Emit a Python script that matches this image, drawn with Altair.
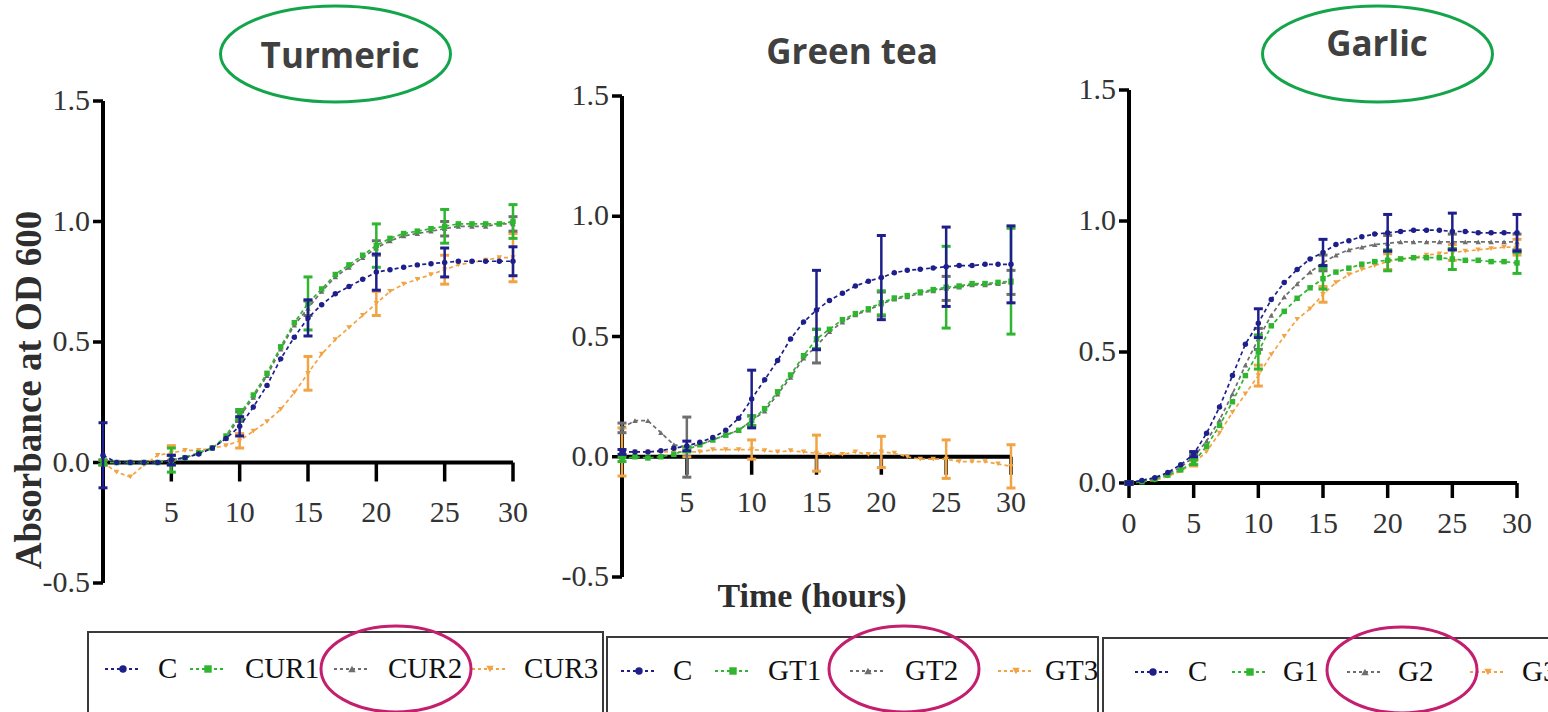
import altair as alt
import pandas as pd

# ---------------- data ----------------
hours = list(range(31))
err_hours = [0, 5, 10, 15, 20, 25, 30]

panel_titles = ["Turmeric", "Green tea", "Garlic"]
legend_labels = [["C", "CUR1", "CUR2", "CUR3"],
                 ["C", "GT1", "GT2", "GT3"],
                 ["C", "G1", "G2", "G3"]]

# Turmeric
tur_C = [0.03, 0.0, 0.0, 0.0, 0.0, 0.01, 0.02, 0.035, 0.06, 0.10,
         0.15, 0.23, 0.32, 0.43, 0.52, 0.60, 0.655, 0.70, 0.73, 0.76,
         0.79, 0.80, 0.81, 0.82, 0.825, 0.83, 0.835, 0.835, 0.835, 0.835, 0.835]
tur_1 = [0.0, 0.0, 0.0, 0.0, 0.0, 0.01, 0.02, 0.04, 0.06, 0.11,
         0.20, 0.28, 0.37, 0.48, 0.58, 0.66, 0.72, 0.78, 0.82, 0.86,
         0.90, 0.93, 0.95, 0.96, 0.97, 0.98, 0.99, 0.99, 0.99, 0.99, 1.00]
tur_2 = [0.0, 0.0, 0.0, 0.0, 0.0, 0.01, 0.02, 0.04, 0.06, 0.10,
         0.19, 0.27, 0.36, 0.47, 0.57, 0.64, 0.71, 0.77, 0.81, 0.85,
         0.89, 0.92, 0.94, 0.95, 0.96, 0.97, 0.98, 0.98, 0.98, 0.99, 0.99]
tur_3 = [0.0, -0.04, -0.06, -0.01, 0.03, 0.04, 0.05, 0.05, 0.06, 0.07,
         0.09, 0.13, 0.17, 0.22, 0.29, 0.37, 0.45, 0.51, 0.56, 0.61,
         0.66, 0.71, 0.74, 0.76, 0.78, 0.80, 0.82, 0.83, 0.84, 0.85, 0.85]
tur_C_sd = [0.135, 0.02, 0.04, 0.075, 0.075, 0.06, 0.06]
tur_1_sd = [0.01, 0.05, 0.02, 0.11, 0.09, 0.07, 0.07]
tur_2_sd = [0.01, 0.02, 0.02, 0.03, 0.03, 0.03, 0.03]
tur_3_sd = [0.01, 0.03, 0.03, 0.07, 0.05, 0.06, 0.10]

# Green tea
gt_C = [0.02, 0.02, 0.02, 0.025, 0.035, 0.045, 0.06, 0.08, 0.11, 0.16,
        0.24, 0.32, 0.40, 0.49, 0.56, 0.61, 0.65, 0.68, 0.71, 0.73,
        0.745, 0.765, 0.775, 0.78, 0.785, 0.79, 0.795, 0.795, 0.80, 0.80, 0.80]
gt_1 = [-0.01, 0.0, -0.005, 0.0, 0.01, 0.03, 0.05, 0.07, 0.09, 0.11,
        0.15, 0.20, 0.27, 0.34, 0.42, 0.49, 0.53, 0.57, 0.595, 0.615,
        0.64, 0.66, 0.67, 0.685, 0.695, 0.705, 0.71, 0.72, 0.72, 0.725, 0.73]
gt_2 = [0.12, 0.15, 0.15, 0.10, 0.05, 0.04, 0.05, 0.07, 0.09, 0.11,
        0.15, 0.19, 0.26, 0.33, 0.41, 0.46, 0.52, 0.56, 0.59, 0.61,
        0.635, 0.655, 0.665, 0.68, 0.69, 0.70, 0.705, 0.715, 0.715, 0.72, 0.725]
gt_3 = [0.02, 0.02, 0.02, 0.02, 0.02, 0.02, 0.02, 0.03, 0.03, 0.03,
        0.03, 0.025, 0.02, 0.025, 0.02, 0.015, 0.01, 0.01, 0.02, 0.01,
        0.02, 0.015, 0.0, -0.01, -0.01, -0.01, -0.02, -0.02, -0.02, -0.03, -0.04]
gt_C_sd = [0.01, 0.02, 0.12, 0.165, 0.175, 0.165, 0.16]
gt_1_sd = [0.01, 0.01, 0.02, 0.04, 0.05, 0.17, 0.22]
gt_2_sd = [0.02, 0.125, 0.02, 0.07, 0.05, 0.05, 0.05]
gt_3_sd = [0.10, 0.02, 0.04, 0.075, 0.065, 0.08, 0.09]

# Garlic
gar_C = [0.0, 0.01, 0.02, 0.04, 0.07, 0.11, 0.19, 0.29, 0.41, 0.53,
         0.61, 0.70, 0.765, 0.815, 0.855, 0.88, 0.91, 0.925, 0.94, 0.95,
         0.955, 0.96, 0.965, 0.965, 0.965, 0.96, 0.96, 0.955, 0.955, 0.955, 0.955]
gar_1 = [0.0, 0.005, 0.015, 0.03, 0.05, 0.08, 0.14, 0.22, 0.31, 0.41,
         0.50, 0.60, 0.655, 0.705, 0.745, 0.78, 0.805, 0.82, 0.835, 0.845,
         0.85, 0.855, 0.86, 0.86, 0.86, 0.855, 0.85, 0.85, 0.845, 0.845, 0.84]
gar_2 = [0.0, 0.01, 0.02, 0.035, 0.06, 0.10, 0.16, 0.24, 0.34, 0.45,
         0.55, 0.64, 0.71, 0.76, 0.805, 0.84, 0.87, 0.89, 0.90, 0.91,
         0.915, 0.92, 0.92, 0.92, 0.92, 0.92, 0.92, 0.92, 0.92, 0.92, 0.92]
gar_3 = [0.0, 0.005, 0.01, 0.025, 0.045, 0.075, 0.12, 0.19, 0.27, 0.34,
         0.41, 0.49, 0.56, 0.625, 0.665, 0.72, 0.765, 0.795, 0.815, 0.83,
         0.845, 0.855, 0.86, 0.87, 0.875, 0.88, 0.885, 0.89, 0.895, 0.90, 0.90]
gar_C_sd = [0.005, 0.01, 0.055, 0.05, 0.07, 0.07, 0.07]
gar_1_sd = [0.005, 0.01, 0.065, 0.04, 0.04, 0.04, 0.04]
gar_2_sd = [0.005, 0.01, 0.04, 0.03, 0.03, 0.03, 0.03]
gar_3_sd = [0.005, 0.01, 0.04, 0.03, 0.03, 0.03, 0.03]

y_ticks_a = [-0.5, 0.0, 0.5, 1.0, 1.5]
y_labels_a = ["-0.5", "0.0", "0.5", "1.0", "1.5"]
y_ticks_b = [0.0, 0.5, 1.0, 1.5]
y_labels_b = ["0.0", "0.5", "1.0", "1.5"]
x_ticks_a = [5, 10, 15, 20, 25, 30]
x_ticks_b = [0, 5, 10, 15, 20, 25, 30]

axis_title_y = "Absorbance at OD 600"
axis_title_x = "Time (hours)"

# ---------------- styling / layout ----------------
W, H = 1548, 712
SERIF = "Liberation Serif"
SANS = "Open Sans"
COLORS = ["#1f1f8c", "#2fb52f", "#6e6e6e", "#f2a445"]
SHAPES = ["circle", "square", "triangle-up", "triangle-down"]
AX_COLOR = "#000000"
LAB_COLOR = "#333333"


def ellipse_path(k):
    c = 0.5523
    return (f"M-1,0 C-1,{-c*k:.4f} {-c:.4f},{-k:.4f} 0,{-k:.4f} "
            f"C{c:.4f},{-k:.4f} 1,{-c*k:.4f} 1,0 "
            f"C1,{c*k:.4f} {c:.4f},{k:.4f} 0,{k:.4f} "
            f"C{-c:.4f},{k:.4f} -1,{c*k:.4f} -1,0 Z")


PANELS = [
    dict(series=[tur_C, tur_1, tur_2, tur_3], sds=[tur_C_sd, tur_1_sd, tur_2_sd, tur_3_sd],
         xr=[103, 513], yr=[583, 101], ydom=[-0.5, 1.5],
         yvals=y_ticks_a, ylabs=y_labels_a, xvals=x_ticks_a, tick=19, lpad=16),
    dict(series=[gt_C, gt_1, gt_2, gt_3], sds=[gt_C_sd, gt_1_sd, gt_2_sd, gt_3_sd],
         xr=[622, 1011], yr=[577, 96], ydom=[-0.5, 1.5],
         yvals=y_ticks_a, ylabs=y_labels_a, xvals=x_ticks_a, tick=18, lpad=13),
    dict(series=[gar_C, gar_1, gar_2, gar_3], sds=[gar_C_sd, gar_1_sd, gar_2_sd, gar_3_sd],
         xr=[1129, 1517], yr=[483, 90], ydom=[0.0, 1.5],
         yvals=y_ticks_b, ylabs=y_labels_b, xvals=x_ticks_b, tick=15, lpad=11),
]


def make_panel(p):
    xs = alt.Scale(domain=[0, 30], range=p["xr"], nice=False, zero=False)
    ys = alt.Scale(domain=p["ydom"], range=p["yr"], nice=False, zero=False)

    def X(f):
        return alt.X(f, scale=xs, axis=None)

    def Y(f):
        return alt.Y(f, scale=ys, axis=None)

    layers = []
    # ----- axes drawn through the panel scales -----
    ydf = pd.DataFrame({"x0": [0] * len(p["yvals"]), "v": p["yvals"], "lab": p["ylabs"]})
    xdf = pd.DataFrame({"v": p["xvals"], "y0": [0.0] * len(p["xvals"]),
                        "lab": [str(v) for v in p["xvals"]]})
    ydom_df = pd.DataFrame({"x0": [0], "a": [p["ydom"][0]], "b": [p["ydom"][1]]})
    xdom_df = pd.DataFrame({"a": [0], "b": [30], "y0": [0.0]})

    layers.append(alt.Chart(ydf).mark_rule(color=AX_COLOR, strokeWidth=3.5, xOffset=-10, x2Offset=0).encode(
        x=X("x0:Q"), x2="x0:Q", y=Y("v:Q")))
    layers.append(alt.Chart(xdf).mark_rule(color=AX_COLOR, strokeWidth=3.5, yOffset=0,
                                           y2Offset=p["tick"]).encode(
        x=X("v:Q"), y=Y("y0:Q"), y2="y0:Q"))
    layers.append(alt.Chart(ydom_df).mark_rule(color=AX_COLOR, strokeWidth=4).encode(
        x=X("x0:Q"), y=Y("a:Q"), y2="b:Q"))
    layers.append(alt.Chart(xdom_df).mark_rule(color=AX_COLOR, strokeWidth=4).encode(
        x=X("a:Q"), x2="b:Q", y=Y("y0:Q")))
    layers.append(alt.Chart(ydf).mark_text(font=SERIF, fontSize=30, color=LAB_COLOR, align="right",
                                           baseline="middle", dx=-13).encode(
        x=X("x0:Q"), y=Y("v:Q"), text="lab:N"))
    layers.append(alt.Chart(xdf).mark_text(font=SERIF, fontSize=30, color=LAB_COLOR, align="center",
                                           baseline="top", dy=p["tick"] + p["lpad"]).encode(
        x=X("v:Q"), y=Y("y0:Q"), text="lab:N"))

    # ----- series -----
    for i in [3, 2, 1, 0]:
        vals = p["series"][i]
        sd = p["sds"][i]
        df = pd.DataFrame({"hour": hours, "v": vals})
        edf = pd.DataFrame({"hour": err_hours,
                            "lo": [vals[h] - s for h, s in zip(err_hours, sd)],
                            "hi": [vals[h] + s for h, s in zip(err_hours, sd)]})
        c = COLORS[i]
        layers.append(alt.Chart(df).mark_line(color=c, strokeDash=[4, 3], strokeWidth=1.7).encode(
            x=X("hour:Q"), y=Y("v:Q")))
        layers.append(alt.Chart(edf).mark_rule(color=c, strokeWidth=2.5).encode(
            x=X("hour:Q"), y=Y("lo:Q"), y2="hi:Q"))
        for col in ["lo", "hi"]:
            layers.append(alt.Chart(edf).mark_tick(color=c, orient="horizontal", size=9,
                                                    thickness=3, opacity=1).encode(
                x=X("hour:Q"), y=Y(f"{col}:Q")))
        layers.append(alt.Chart(df).mark_point(color=c, filled=True, opacity=1, size=30,
                                               shape=SHAPES[i]).encode(
            x=X("hour:Q"), y=Y("v:Q")))
    return alt.layer(*layers)


def px(field):
    return dict(x=alt.X(f"{field}x:Q", scale=None, axis=None),
                y=alt.Y(f"{field}y:Q", scale=None, axis=None))


# titles
title_df = pd.DataFrame({"t": panel_titles, "tx": [340, 852, 1377], "ty": [68, 64, 56]})
titles = alt.Chart(title_df).mark_text(font=SANS, fontWeight="bold", fontSize=35,
                                       color="#404040", align="center", baseline="alphabetic").encode(
    text="t:N", **px("t"))
tell_df = pd.DataFrame({"ex": [335.5, 1377.5], "ey": [54, 54]})
title_ell = alt.Chart(tell_df).mark_point(shape=ellipse_path(48 / 115), size=230 ** 2, filled=False,
                                          stroke="#14a54b", strokeWidth=3, opacity=1).encode(**px("e"))

ytitle_df = pd.DataFrame({"t": [axis_title_y], "ax": [30], "ay": [390]})
ytitle = alt.Chart(ytitle_df).mark_text(font=SERIF, fontWeight="bold", fontSize=37, angle=270,
                                        color="#2e2e2e", align="center", baseline="middle").encode(
    text="t:N", **px("a"))
xtitle_df = pd.DataFrame({"t": [axis_title_x], "bx": [812], "by": [597]})
xtitle = alt.Chart(xtitle_df).mark_text(font=SERIF, fontWeight="bold", fontSize=34,
                                        color="#2e2e2e", align="center", baseline="middle").encode(
    text="t:N", **px("b"))

# legend boxes
box_df = pd.DataFrame({"x1": [88, 607, 1103], "x2": [603, 1098, 1640],
                       "y1": [632, 637, 638], "y2": [760, 760, 760]})
boxes = alt.Chart(box_df).mark_rect(fillOpacity=0, stroke="#3a3a3a", strokeWidth=2).encode(
    x=alt.X("x1:Q", scale=None, axis=None), x2="x2:Q",
    y=alt.Y("y1:Q", scale=None, axis=None), y2="y2:Q")

LEG_MARK_X = [[123, 208, 352, 490], [639, 733, 868, 1016], [1153, 1250, 1365, 1488]]
LEG_LABEL_X = [[158, 245, 388, 524], [673, 768, 905, 1045], [1188, 1283, 1398, 1522]]
LEG_Y = [669, 671, 672]

leg_layers = []
for b in range(3):
    for i in range(4):
        mx, lx, ly = LEG_MARK_X[b][i], LEG_LABEL_X[b][i], LEG_Y[b]
        d = pd.DataFrame({"lbl": [legend_labels[b][i]], "mx": [mx], "my": [ly],
                          "m1": [mx - 18], "m2": [mx + 18], "lx": [lx], "ly": [ly]})
        leg_layers.append(alt.Chart(d).mark_rule(color=COLORS[i], strokeDash=[3, 3], strokeWidth=2).encode(
            x=alt.X("m1:Q", scale=None, axis=None), x2="m2:Q", y=alt.Y("my:Q", scale=None, axis=None)))
        leg_layers.append(alt.Chart(d).mark_point(color=COLORS[i], filled=True, opacity=1, size=55,
                                                  shape=SHAPES[i]).encode(**px("m")))
        leg_layers.append(alt.Chart(d).mark_text(font=SERIF, fontSize=29, color="#111", align="left",
                                                 baseline="middle").encode(text="lbl:N", **px("l")))

pink_df = pd.DataFrame({"px": [396, 904, 1402], "py": [669, 669, 670]})
pink = alt.Chart(pink_df).mark_point(shape=ellipse_path(43 / 75), size=150 ** 2, filled=False,
                                     stroke="#c41e6e", strokeWidth=3, opacity=1).encode(**px("p"))

chart = alt.layer(
    *[make_panel(p) for p in PANELS],
    titles, title_ell, ytitle, xtitle, boxes, *leg_layers, pink
).resolve_scale(x="independent", y="independent").properties(
    width=W, height=H, autosize=alt.AutoSizeParams(type="none"), padding=0, background="white"
).configure_view(strokeWidth=0)

chart.save("out.html", embed_options={"renderer": "svg", "actions": False})
